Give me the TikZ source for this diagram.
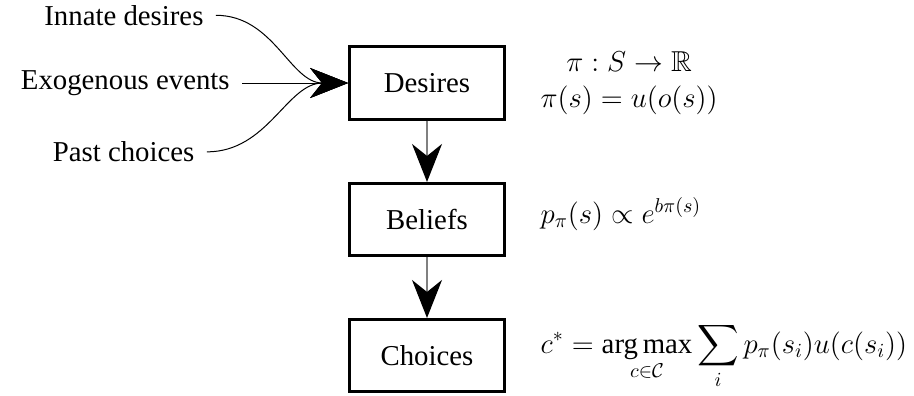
\documentclass[tikz,border=0pt]{standalone}
\usepackage[no-math]{fontspec}
\setmainfont{Liberation Serif}
\usepackage{amsmath,amssymb}
\usetikzlibrary{arrows.meta}

\begin{document}
\begin{tikzpicture}[
  font=\Large,
  box/.style={rectangle,draw,line width=1.5pt,minimum width=2.72cm,
    minimum height=1.27cm,align=center},
  src/.style={anchor=east,inner xsep=6pt,inner ysep=0pt},
  eq/.style={inner sep=0pt},
  flow/.style={line width=0.5pt,-{Stealth[length=19pt,width=15pt,inset=6pt,black]}}
]
\useasboundingbox (-7.504,1.459) rectangle (8.558,-5.5);

% stages
\node[box] (des) at (0,0)     {Desires};
\node[box] (bel) at (0,-2.4)  {Beliefs};
\node[box] (cho) at (0,-4.79) {Choices};

\draw[flow,gray,line width=0.6pt] (des)--(bel);
\draw[flow,gray,line width=0.6pt] (bel)--(cho);

% inputs to desires
\node[src] (inn) at (-3.71,1.19)  {Innate desires};
\node[src] (exo) at (-3.25,0)     {Exogenous events};
\node[src] (pst) at (-3.87,-1.21) {Past choices};

\draw[flow] (inn.east) to[out=0,in=180] (des.west);
\draw[flow] (exo.east)--(des.west);
\draw[flow] (pst.east) to[out=0,in=180] (des.west);

% formulas
\node[eq,anchor=west,align=center] (desf) at (1.99,0)
  {$\pi : S \to \mathbb{R}$\\ $\pi(s) = u(o(s))$};
\node[eq,anchor=base west] (belf) at (1.99,-2.46)
  {$p_\pi(s) \propto e^{b\pi(s)}$};
\node[eq,anchor=base west] (chof) at (1.99,-4.745)
  {$\displaystyle c^* = \mathop{\textrm{arg\,max}}\limits_{c\in\mathcal{C}}
   \sum_i p_\pi(s_i)u(c(s_i))$};
\end{tikzpicture}
\end{document}
